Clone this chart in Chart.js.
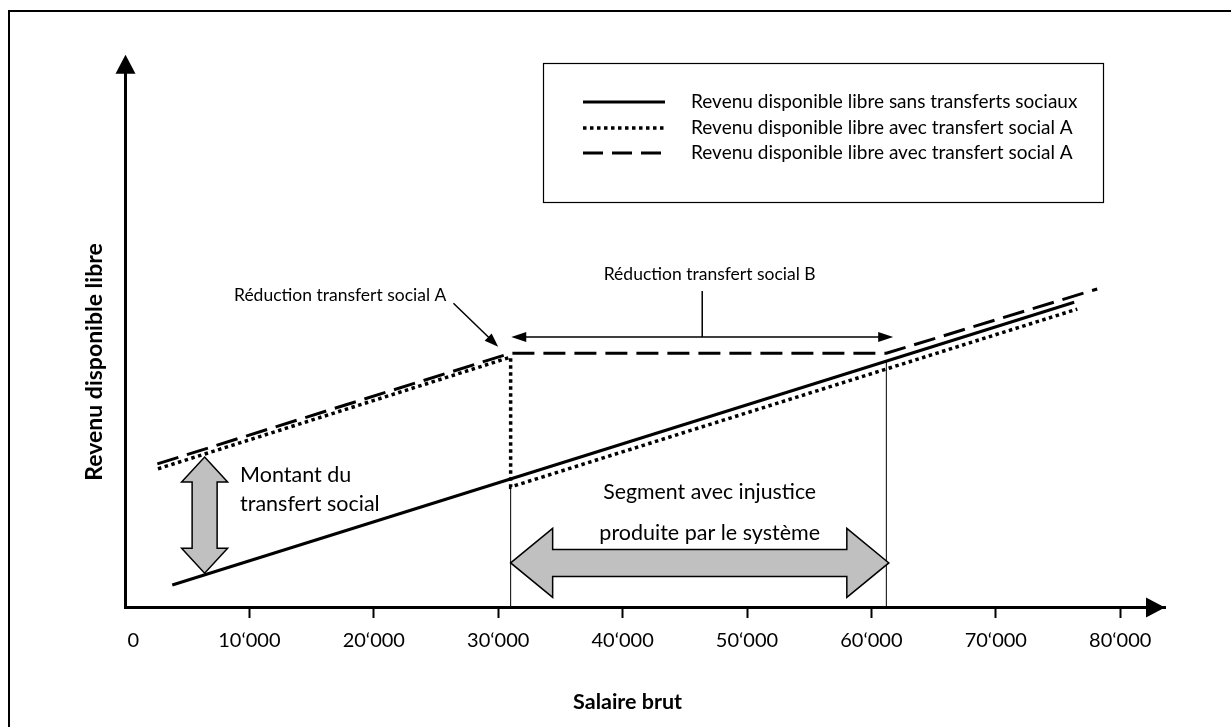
<!DOCTYPE html>
<html>
<head>
<meta charset="utf-8">
<script src="https://cdn.jsdelivr.net/npm/chart.js@4.4.1/dist/chart.umd.min.js"></script>
<style>
  html, body { margin: 0; padding: 0; background: #fff; }
  canvas { display: block; }
</style>
</head>
<body>
<canvas id="container" width="1231" height="727"></canvas>
<script>
const FONT = "Lato, 'Open Sans', sans-serif";

// x axis (salaire brut)
const X_TICKS = [0, 10000, 20000, 30000, 40000, 50000, 60000, 70000, 80000];
const X_TICK_LABELS = ["\u2007 0", "10\u2018000", "20\u2018000", "30\u2018000", "40\u2018000",
  "50\u2018000", "60\u2018000", "70\u2018000", "80\u2018000"];
const X_MAX = 83600;
const Y_MAX = 100;
const Y_ARROW_TIP = 112.7;
const X_TITLE = "Salaire brut";
const X_TITLE_AT = 40400;

const LABELS = [
  "Revenu disponible libre sans transferts sociaux",
  "Revenu disponible libre avec transfert social A",
  "Revenu disponible libre avec transfert social A",
];

// revenu sans transferts
const SANS_X = [3800, 76300];
const SANS_Y = [4.5, 62.2];
// revenu avec transfert A (dotted)
const AVEC_A_X = [2650, 31000, 31000, 76550];
const AVEC_A_Y = [28.2, 51.0, 24.5, 60.8];
// revenu avec transfert (dashed)
const AVEC_B_X = [2600, 31000, 61200, 78150];
const AVEC_B_Y = [29.2, 51.8, 51.8, 64.9];
// thin vertical markers
const MARK_X = [31000, 61200];
const MARK_Y = [24.5, 50.3];

// annotations
const MONTANT_X = 6400;
const MONTANT_Y = [30.6, 6.9];
const SEGMENT_X = [31000, 61400];
const SEGMENT_Y = 9.0;
const RED_B_X = [31050, 61750];
const RED_B_Y = 55.1;
const RED_B_TICK = [46400, 64.5];
const RED_A_ARROW = [26400, 62.0, 30000, 53.1];

const NOTE_TEXT = ["R\u00e9duction transfert social A", "R\u00e9duction transfert social B",
  "Montant du", "transfert social", "Segment avec injustice", "produite par le syst\u00e8me"];
const NOTE_X = [17300, 47000, 9250, 9250, 47000, 47000];
const NOTE_Y = [63.7, 67.8, 27.0, 21.0, 23.5, 15.1];

const toPoints = (xs, ys) => xs.map((x, i) => ({ x: x, y: ys[i] }));

function arrowHead(ctx, x1, y1, x2, y2, len, half) {
  const a = Math.atan2(y2 - y1, x2 - x1);
  const bx = x2 - len * Math.cos(a);
  const by = y2 - len * Math.sin(a);
  ctx.beginPath();
  ctx.moveTo(x2, y2);
  ctx.lineTo(bx + half * Math.sin(a), by - half * Math.cos(a));
  ctx.lineTo(bx - half * Math.sin(a), by + half * Math.cos(a));
  ctx.closePath();
  ctx.fill();
}

function blockArrow(ctx, x1, y1, x2, y2, hl, hh, st) {
  const len = Math.hypot(x2 - x1, y2 - y1);
  ctx.save();
  ctx.translate(x1, y1);
  ctx.rotate(Math.atan2(y2 - y1, x2 - x1));
  ctx.beginPath();
  ctx.moveTo(0, 0);
  ctx.lineTo(hl, -hh);
  ctx.lineTo(hl, -st);
  ctx.lineTo(len - hl, -st);
  ctx.lineTo(len - hl, -hh);
  ctx.lineTo(len, 0);
  ctx.lineTo(len - hl, hh);
  ctx.lineTo(len - hl, st);
  ctx.lineTo(hl, st);
  ctx.lineTo(hl, hh);
  ctx.closePath();
  ctx.fillStyle = "#c0c0c0";
  ctx.fill();
  ctx.lineWidth = 1.5;
  ctx.strokeStyle = "#000";
  ctx.stroke();
  ctx.restore();
}

const decor = {
  id: "decor",
  afterDatasetsDraw(chart) {
    const ctx = chart.ctx;
    const xs = chart.scales.x;
    const ys = chart.scales.y;
    const px = (v) => xs.getPixelForValue(v);
    const py = (v) => ys.getPixelForValue(v);
    const area = chart.chartArea;
    const axisX = Math.round(area.left - 1.5) + 1.5;
    const axisY = Math.round(area.bottom - 1.5) + 1.5;
    ctx.save();
    ctx.fillStyle = "#000";
    ctx.strokeStyle = "#000";

    // outer frame (top + left)
    ctx.lineWidth = 2;
    ctx.beginPath();
    ctx.moveTo(9, 727);
    ctx.lineTo(9, 11);
    ctx.lineTo(1231, 11);
    ctx.stroke();

    // axis arrows
    const yTip = py(Y_ARROW_TIP);
    ctx.lineWidth = 3;
    ctx.beginPath();
    ctx.moveTo(axisX, area.top + 2);
    ctx.lineTo(axisX, yTip + 10);
    ctx.stroke();
    arrowHead(ctx, axisX, area.top, axisX, yTip, 19, 10);
    arrowHead(ctx, area.left, axisY, px(X_MAX), axisY, 19, 10);

    // x axis title
    ctx.font = "bold 21.5px " + FONT;
    ctx.textAlign = "center";
    ctx.textBaseline = "middle";
    ctx.fillText(X_TITLE, px(X_TITLE_AT), 702);

    // gray double arrows
    blockArrow(ctx, px(MONTANT_X), py(MONTANT_Y[0]), px(MONTANT_X), py(MONTANT_Y[1]), 25, 23, 12.5);
    blockArrow(ctx, px(SEGMENT_X[0]), py(SEGMENT_Y), px(SEGMENT_X[1]), py(SEGMENT_Y), 42, 34.5, 13.5);

    // reduction B arrow
    ctx.lineWidth = 1.5;
    const bl = px(RED_B_X[0]), br = px(RED_B_X[1]), by = py(RED_B_Y);
    ctx.beginPath();
    ctx.moveTo(bl + 8, by);
    ctx.lineTo(br - 8, by);
    ctx.moveTo(px(RED_B_TICK[0]), by);
    ctx.lineTo(px(RED_B_TICK[0]), py(RED_B_TICK[1]));
    ctx.stroke();
    arrowHead(ctx, br, by, bl, by, 15, 5);
    arrowHead(ctx, bl, by, br, by, 15, 5);

    // reduction A arrow
    const ax1 = px(RED_A_ARROW[0]), ay1 = py(RED_A_ARROW[1]);
    const ax2 = px(RED_A_ARROW[2]), ay2 = py(RED_A_ARROW[3]);
    ctx.beginPath();
    ctx.moveTo(ax1, ay1);
    ctx.lineTo(ax2 - 6, ay2 - 6);
    ctx.stroke();
    arrowHead(ctx, ax1, ay1, ax2, ay2, 14, 5);

    // notes
    const noteFont = [17.5, 17.5, 21.5, 21.5, 21.3, 21.5];
    const noteAlign = ["center", "center", "left", "left", "center", "center"];
    NOTE_TEXT.forEach((t, i) => {
      ctx.font = noteFont[i] + "px " + FONT;
      ctx.textAlign = noteAlign[i];
      ctx.fillText(t, px(NOTE_X[i]), py(NOTE_Y[i]));
    });

    // legend
    ctx.lineWidth = 1.2;
    ctx.strokeRect(543.5, 63.5, 560, 139);
    const rows = [102, 128, 153];
    ctx.font = "19px " + FONT;
    ctx.textAlign = "left";
    chart.data.datasets.slice(0, 3).forEach((ds, i) => {
      ctx.save();
      ctx.lineWidth = ds.borderWidth;
      ctx.setLineDash(i === 2 ? [20, 9] : (ds.borderDash || []));
      ctx.beginPath();
      ctx.moveTo(583, rows[i]);
      ctx.lineTo(665, rows[i]);
      ctx.stroke();
      ctx.restore();
      ctx.fillText(ds.label, 691, rows[i]);
    });
    ctx.restore();
  },
};

function chart_init() {
  const lineStyle = {
    showLine: true,
    borderColor: "#000",
    pointRadius: 0,
    fill: false,
    tension: 0,
    borderCapStyle: "butt",
  };
  const data = {
    datasets: [
      Object.assign({ label: LABELS[0], data: toPoints(SANS_X, SANS_Y), borderWidth: 3 }, lineStyle),
      Object.assign({ label: LABELS[1], data: toPoints(AVEC_A_X, AVEC_A_Y), borderWidth: 3.5, borderDash: [3.5, 3.5] }, lineStyle),
      Object.assign({ label: LABELS[2], data: toPoints(AVEC_B_X, AVEC_B_Y), borderWidth: 3, borderDash: [22, 9] }, lineStyle),
      Object.assign({ label: "", data: toPoints([MARK_X[0], MARK_X[0]], [0, MARK_Y[0]]), borderWidth: 1 }, lineStyle),
      Object.assign({ label: "", data: toPoints([MARK_X[1], MARK_X[1]], [0, MARK_Y[1]]), borderWidth: 1 }, lineStyle),
    ],
  };

  new Chart(document.getElementById("container"), {
    type: "scatter",
    data: data,
    options: {
      responsive: false,
      animation: false,
      layout: { padding: { left: 70, top: 117, right: 66, bottom: 0 } },
      plugins: { legend: { display: false }, tooltip: { enabled: false } },
      scales: {
        x: {
          type: "linear",
          min: 0,
          max: X_MAX,
          afterBuildTicks: (s) => { s.ticks = X_TICKS.map((v) => ({ value: v })); },
          afterFit: (s) => { s.height = 120; },
          ticks: {
            autoSkip: false,
            maxRotation: 0,
            padding: 11,
            color: "#000",
            font: { family: FONT, size: 20 },
            callback: (v) => X_TICK_LABELS[X_TICKS.indexOf(v)],
          },
          grid: {
            drawOnChartArea: false,
            drawTicks: true,
            tickLength: 11,
            tickWidth: 2,
            tickColor: (c) => (c.tick && c.tick.value === 0 ? "rgba(0,0,0,0)" : "#000"),
          },
          border: { display: true, color: "#000", width: 3 },
        },
        y: {
          min: 0,
          max: Y_MAX,
          afterFit: (s) => { s.width = 55; },
          ticks: { display: false },
          grid: { drawOnChartArea: false, drawTicks: false },
          border: { display: true, color: "#000", width: 3 },
          title: {
            display: true,
            text: "Revenu disponible libre",
            color: "#000",
            font: { family: FONT, size: 23, weight: "bold" },
            padding: { top: 11, bottom: 0 },
          },
        },
      },
    },
    plugins: [decor],
  });
}

chart_init();
</script>
</body>
</html>
